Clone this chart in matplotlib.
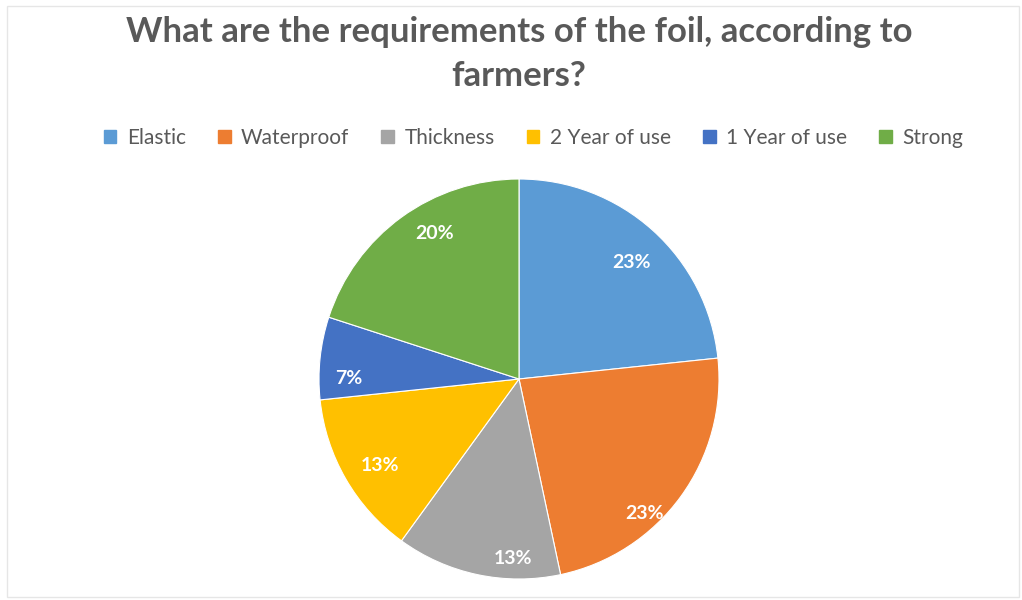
import numpy as np
import matplotlib
matplotlib.use("Agg")
import matplotlib.pyplot as plt
from matplotlib.patches import Rectangle, Patch

categories = ["Elastic", "Waterproof", "Thickness", "2 Year of use", "1 Year of use", "Strong"]
counts = [7, 7, 4, 4, 2, 6]
colors = ["#5B9BD5", "#ED7D31", "#A5A5A5", "#FFC000", "#4472C4", "#70AD47"]
title = "What are the requirements of the foil, according to\nfarmers?"

# label placement (Excel "best fit"-like): radius fraction and angle shift in degrees
label_radius = [0.81, 0.92, 0.90, 0.82, 0.85, 0.84]
label_shift = [-2, -11, 10, 2, 6, -6]

plt.rcParams['font.family'] = ['Lato', 'DejaVu Sans']

fig = plt.figure(figsize=(10.22, 6.0), dpi=100)
fig.patch.set_facecolor("white")
fig.add_artist(Rectangle((7/1022, 3/600), 1012/1022, 591/600, transform=fig.transFigure,
                         fill=False, edgecolor="#E6E6E6", linewidth=1.0))

ax = fig.add_axes([319/1022, 21/600, 400/1022, 400/600])
wedges, _ = ax.pie(counts, colors=colors, startangle=90, counterclock=False,
                   wedgeprops=dict(edgecolor="white", linewidth=0.8))
ax.set_aspect("equal")
ax.set_xlim(-1, 1)
ax.set_ylim(-1, 1)

total = sum(counts)
for w, c, r, s in zip(wedges, counts, label_radius, label_shift):
    mid = np.deg2rad((w.theta1 + w.theta2) / 2 + s)
    ax.text(r * np.cos(mid), r * np.sin(mid), f"{round(100 * c / total)}%",
            ha="center", va="center", color="white", fontsize=14, fontweight="bold")

fig.text(0.508, 0.91, title, ha="center", va="center", fontsize=25, fontweight="bold",
         color="#595959", linespacing=1.45)

handles = [Patch(facecolor=c, edgecolor=c) for c in colors]
fig.legend(handles, categories, loc="center", bbox_to_anchor=(0.522, 0.77), ncol=6,
           frameon=False, fontsize=15, labelcolor="#595959", handlelength=0.6,
           handleheight=0.6, handletextpad=0.5, columnspacing=1.55)

fig.savefig("out.png", dpi=100, facecolor="white")
